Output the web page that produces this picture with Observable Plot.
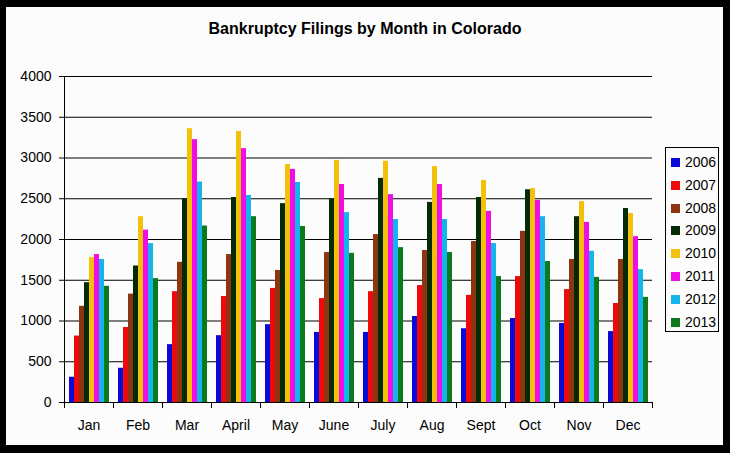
<!DOCTYPE html>
<html>
<head>
<meta charset="utf-8">
<script src="https://cdn.jsdelivr.net/npm/d3@7"></script>
<script src="https://cdn.jsdelivr.net/npm/@observablehq/plot@0.6"></script>
<style>
  html, body { margin: 0; padding: 0; background: #000; }
  #frame { position: absolute; left: 0; top: 0; width: 730px; height: 453px; background: #000; overflow: hidden; font-family: "Liberation Sans", Arial, sans-serif; }
  #inner { position: absolute; left: 6px; top: 7px; width: 717px; height: 438px; background: #fcfcfc; }
  #title { position: absolute; left: 0; width: 730px; top: 20px; text-align: center; font-weight: bold; font-size: 16px; color: #000; }
  #chart { position: absolute; left: 0; top: 56px; }
  #legend { position: absolute; left: 665px; top: 147px; width: 52px; height: 183px; border: 1px solid #000; background: #fcfcfc; box-sizing: content-box; }
  .row { position: absolute; left: 5px; height: 16px; font-size: 14px; line-height: 16px; color: #000; }
  .sw { display: inline-block; width: 9px; height: 9px; margin-right: 5px; vertical-align: 0px; }
</style>
</head>
<body>
<div id="frame">
  <div id="inner"></div>
  <div id="title">Bankruptcy Filings by Month in Colorado</div>
  <div id="chart"></div>
  <div id="legend"></div>
</div>
<script>
const months = ["Jan", "Feb", "Mar", "April", "May", "June", "July", "Aug", "Sept", "Oct", "Nov", "Dec"];
const years = ["2006", "2007", "2008", "2009", "2010", "2011", "2012", "2013"];
const yTicks = [0, 500, 1000, 1500, 2000, 2500, 3000, 3500, 4000];
const palette = ["#0a0ad8", "#ee0a0a", "#8c3510", "#032b05", "#f5c00a", "#f00ee8", "#14b4ec", "#0a7a1c"];

const filings2006 = [310, 420, 710, 820, 955, 860, 860, 1055, 905, 1030, 970, 870];
const filings2007 = [815, 920, 1360, 1300, 1400, 1275, 1360, 1435, 1315, 1545, 1385, 1215];
const filings2008 = [1180, 1330, 1720, 1815, 1620, 1840, 2060, 1865, 1975, 2100, 1755, 1755];
const filings2009 = [1470, 1675, 2500, 2515, 2440, 2500, 2750, 2455, 2515, 2610, 2280, 2380];
const filings2010 = [1780, 2280, 3360, 3325, 2920, 2970, 2960, 2895, 2725, 2625, 2465, 2320];
const filings2011 = [1815, 2115, 3225, 3115, 2860, 2675, 2550, 2675, 2345, 2480, 2210, 2035];
const filings2012 = [1755, 1950, 2705, 2540, 2700, 2330, 2245, 2245, 1950, 2280, 1855, 1630];
const filings2013 = [1425, 1520, 2165, 2280, 2160, 1830, 1900, 1840, 1545, 1730, 1535, 1290];

const series = [filings2006, filings2007, filings2008, filings2009, filings2010, filings2011, filings2012, filings2013];
const data = [];
months.forEach((m, i) => {
  years.forEach((y, j) => {
    data.push({month: m, year: y, value: series[j][i]});
  });
});

const font = "Liberation Sans, Arial, sans-serif";

const chart = Plot.plot({
  width: 730,
  height: 389,
  marginTop: 20,
  marginBottom: 43,
  marginLeft: 62,
  marginRight: 76,
  style: {background: "transparent", fontFamily: font, fontSize: "14px", color: "#000", overflow: "visible"},
  fx: {domain: months, padding: 0, label: null, axis: null},
  x: {domain: years, paddingInner: 0, paddingOuter: 0.82, axis: null},
  y: {domain: [0, 4000], axis: null},
  color: {domain: years, range: palette},
  marks: [
    Plot.gridY(yTicks, {stroke: "#000", strokeOpacity: 1, strokeWidth: 1}),
    Plot.barY(data, {fx: "month", x: "year", y: "value", fill: "year", inset: 0}),
    Plot.ruleY([0], {stroke: "#000", strokeWidth: 1}),
    Plot.frame({anchor: "left", fx: months[0], stroke: "#000", insetBottom: -5}),
    Plot.frame({anchor: "left", stroke: "#000", insetTop: 326, insetBottom: -5}),
    Plot.frame({anchor: "right", stroke: "#000", insetTop: 326, insetBottom: -5}),
    Plot.axisY(yTicks, {anchor: "left", tickSize: 5, tickPadding: 8, label: null, fontSize: 14, stroke: "#000", tickFormat: d => String(d)}),
    Plot.axisFx({anchor: "bottom", tickSize: 0, tickPadding: 18, label: null, fontSize: 14})
  ]
});
document.getElementById("chart").appendChild(chart);

const legend = document.getElementById("legend");
years.forEach((y, i) => {
  const row = document.createElement("div");
  row.className = "row";
  row.style.top = (6 + i * 22.8) + "px";
  const sw = document.createElement("span");
  sw.className = "sw";
  sw.style.background = palette[i];
  row.appendChild(sw);
  row.appendChild(document.createTextNode(y));
  legend.appendChild(row);
});
</script>
</body>
</html>
